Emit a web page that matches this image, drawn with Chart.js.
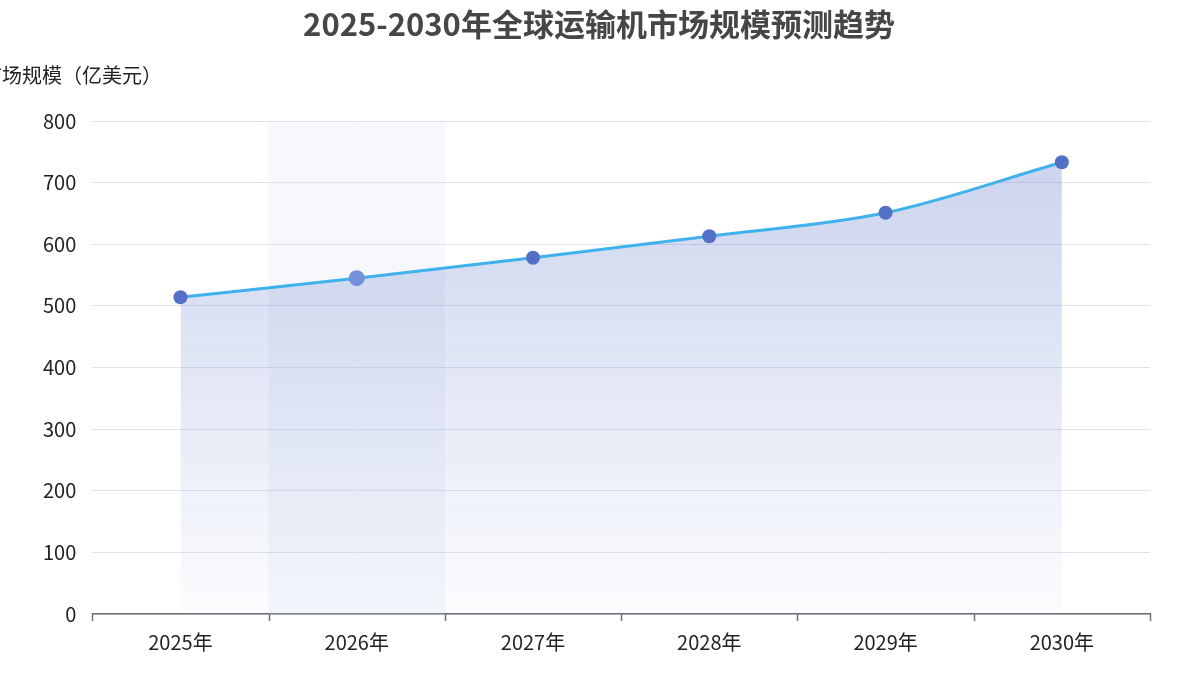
<!DOCTYPE html>
<html>
<head>
<meta charset="utf-8">
<script src="https://cdn.jsdelivr.net/npm/chart.js@4"></script>
<style>
  html, body { margin: 0; padding: 0; background: #fff; }
  #wrap { width: 1198px; height: 674px; position: relative; }
</style>
</head>
<body>
<div id="wrap"><canvas id="c" width="1198" height="674"></canvas></div>
<script>
const years = ['2025年', '2026年', '2027年', '2028年', '2029年', '2030年'];
const marketSize = [514, 545, 578, 613, 651, 733];
const yTicks = [0, 100, 200, 300, 400, 500, 600, 700, 800];
const highlightIndex = 1;

const FONT = "'Noto Sans CJK SC', 'Noto Sans', sans-serif";

// shaded band behind the hovered category, title and the clipped y-axis name
const extras = {
    id: 'extras',
    beforeDatasetsDraw(chart) {
        const { ctx, chartArea, scales } = chart;
        const x = scales.x;
        const w = (x.right - x.left) / years.length;
        const cx = x.getPixelForValue(highlightIndex);
        ctx.save();
        ctx.fillStyle = 'rgba(210,219,238,0.2)';
        ctx.fillRect(cx - w / 2, chartArea.top, w, chartArea.bottom - chartArea.top);
        ctx.restore();
    },
    afterDraw(chart) {
        const { ctx, chartArea, scales } = chart;
        ctx.save();
        ctx.font = 'bold 31px ' + FONT;
        ctx.fillStyle = '#464646';
        ctx.textAlign = 'center';
        ctx.textBaseline = 'middle';
        ctx.fillText('2025-2030年全球运输机市场规模预测趋势', 599, 24);
        ctx.font = '20px ' + FONT;
        ctx.fillStyle = '#222';
        ctx.textAlign = 'left';
        ctx.fillText('市场规模（亿美元）', -18, 75);
        // category boundary ticks
        const x = scales.x;
        const w = (x.right - x.left) / years.length;
        ctx.strokeStyle = '#6e7079';
        ctx.lineWidth = 1.5;
        for (let i = 0; i <= years.length; i++) {
            const px = Math.round(x.left + i * w) + 0.5;
            ctx.beginPath();
            ctx.moveTo(px, chartArea.bottom);
            ctx.lineTo(px, chartArea.bottom + 7);
            ctx.stroke();
        }
        ctx.restore();
    }
};

const ctx = document.getElementById('c').getContext('2d');
const grad = ctx.createLinearGradient(0, 121, 0, 614);
grad.addColorStop(0, 'rgba(84,112,198,0.32)');
grad.addColorStop(1, 'rgba(84,112,198,0.02)');

new Chart(ctx, {
    type: 'line',
    data: {
        labels: years,
        datasets: [{
            data: marketSize,
            borderColor: '#3fb1ec',
            borderWidth: 3,
            backgroundColor: grad,
            fill: 'origin',
            tension: 0.4,
            cubicInterpolationMode: 'monotone',
            pointRadius: years.map((_, i) => i === highlightIndex ? 8 : 7),
            pointBackgroundColor: years.map((_, i) => i === highlightIndex ? '#7690dc' : '#5470c6'),
            pointBorderWidth: 0
        }]
    },
    options: {
        responsive: false,
        animation: false,
        layout: { padding: { left: 27, right: 48, top: 121, bottom: 0 } },
        plugins: {
            legend: { display: false },
            tooltip: { enabled: false },
            title: { display: false }
        },
        scales: {
            x: {
                offset: true,
                grid: { display: false, offset: true },
                border: { color: '#6e7079', width: 1.5 },
                ticks: { color: '#222', font: { family: FONT, size: 20 }, padding: 8 },
                afterFit(s) { s.height = 60; }
            },
            y: {
                min: 0, max: 800,
                afterBuildTicks(s) { s.ticks = yTicks.map(v => ({ value: v })); },
                grid: { color: '#e0e3ef', drawTicks: false },
                border: { display: false },
                ticks: { color: '#222', font: { family: FONT, size: 20 }, padding: 16 }
            }
        }
    },
    plugins: [extras]
});
</script>
</body>
</html>
